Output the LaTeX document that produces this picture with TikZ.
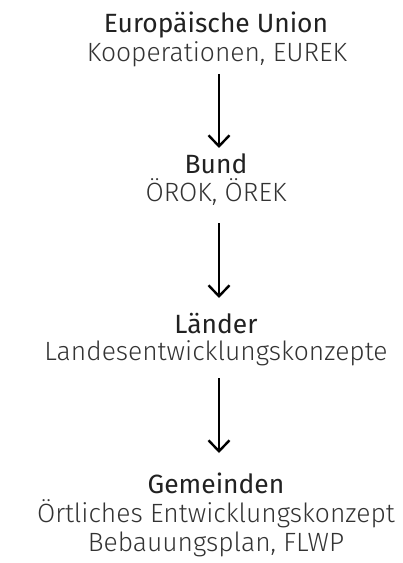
\documentclass[tikz,border=0pt]{standalone}
\usepackage{fontspec}
\setmainfont{Fira Sans}
\newfontfamily\firalight{Fira Sans Light}
\usetikzlibrary{arrows.meta}
\begin{document}
\begin{tikzpicture}[x=1bp,y=-1bp,
  head/.style={anchor=base,inner sep=0pt,text=black!87,font=\fontsize{26.5}{30}\selectfont},
  sub/.style={anchor=base,inner sep=0pt,text=black!80,font=\firalight\fontsize{26.5}{30}\selectfont},
  arr/.style={line width=2.4bp,-{Straight Barb[length=11bp,width=21bp]}}]
\useasboundingbox (0,0) rectangle (402,563);
\node[head] (eu) at (216,33) {Europäische Union};
\node[sub] (eus) at (217,62) {Kooperationen, EUREK};
\node[head] (bund) at (216,173) {Bund};
\node[sub] (bunds) at (216,201) {ÖROK, ÖREK};
\node[head] (land) at (216,333) {Länder};
\node[sub] (lands) at (216,360) {Landesentwicklungskonzepte};
\node[head] (gem) at (216,493) {Gemeinden};
\node[sub] (gems1) at (216,522) {Örtliches Entwicklungskonzept};
\node[sub] (gems2) at (216,551) {Bebauungsplan, FLWP};
\coordinate (a1) at (219,74);
\coordinate (b1) at (219,148);
\coordinate (a2) at (219,223);
\coordinate (b2) at (219,298);
\coordinate (a3) at (219,378);
\coordinate (b3) at (219,453);
\draw[arr] (a1) -- (b1);
\draw[arr] (a2) -- (b2);
\draw[arr] (a3) -- (b3);
\end{tikzpicture}
\end{document}
